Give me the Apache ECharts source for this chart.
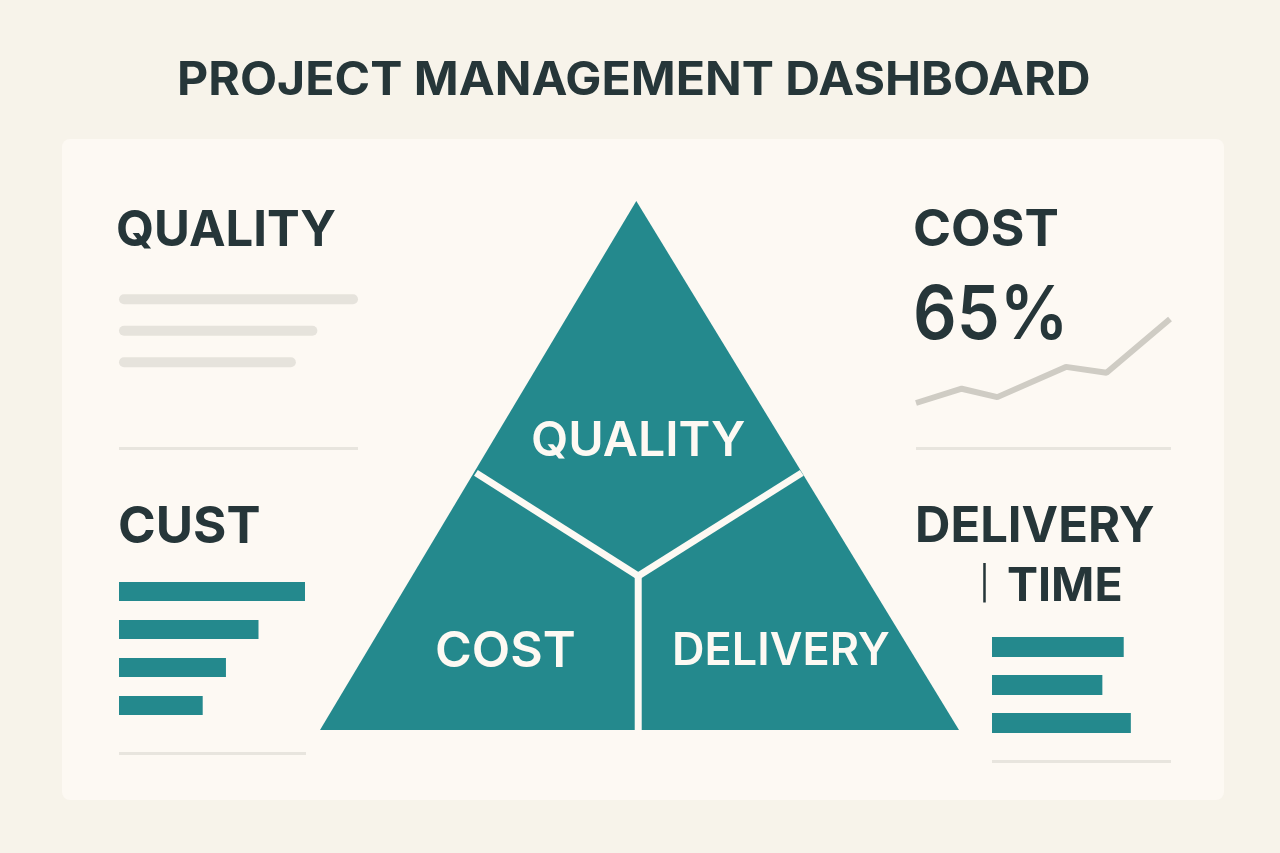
<!DOCTYPE html>
<html>
<head>
<meta charset="utf-8">
<title>Project Management Dashboard</title>
<script src="https://cdn.jsdelivr.net/npm/echarts@6/dist/echarts.min.js"></script>
<style>
html,body{margin:0;padding:0;background:#f7f3ea;}
#chart{width:1280px;height:853px;}
</style>
</head>
<body>
<div id="chart"></div>
<script>
// 数据
var custCategories = ['a', 'b', 'c', 'd'];
var custValues = [100, 75, 57.5, 45];
var qualityCategories = ['a', 'b', 'c'];
var qualityValues = [100, 83, 74];
var deliveryCategories = ['a', 'b', 'c'];
var deliveryValues = [74, 62, 78];
var costX = [0, 18, 32, 59, 75, 100];
var costY = [0, 17, 7, 43, 36, 100];
// 三角形 (0-100 坐标)
var triangleX = [49.5, 100, 0];
var triangleY = [100, 0, 0];
var seamLeftX = [24.4, 49.8];
var seamLeftY = [48.6, 29.1];
var seamRightX = [75.4, 49.8];
var seamRightY = [48.6, 29.1];
var seamDownX = [49.8, 49.8];
var seamDownY = [29.1, 0];

var teal = '#24898d';
var dark = '#263639';
var panel = '#fdf9f3';
var faint = '#e8e5de';

function zip(xs, ys) {
    var out = [];
    for (var i = 0; i < xs.length; i++) {
        out.push([xs[i], ys[i]]);
    }
    return out;
}

function text(str, x, y, size, color, weight, scaleX) {
    return {
        type: 'text', x: x, y: y, z: 100, scaleX: scaleX || 1,
        style: {
            text: str, fill: color, textVerticalAlign: 'middle',
            font: (weight || 700) + ' ' + size + 'px Inter'
        }
    };
}

function divider(x, y, w) {
    return {type: 'rect', z: 1, shape: {x: x, y: y, width: w, height: 3}, style: {fill: faint}};
}

function barSeries(idx, data, color, width, radius) {
    return {
        type: 'bar', xAxisIndex: idx, yAxisIndex: idx, data: data, barWidth: width,
        silent: true, itemStyle: {color: color, borderRadius: radius || 0}
    };
}

function hiddenValueAxis(idx) {
    return {type: 'value', gridIndex: idx, min: 0, max: 100, show: false};
}

function hiddenCategoryAxis(idx, data) {
    return {type: 'category', gridIndex: idx, data: data, inverse: true, show: false};
}

function polySeries(points, fill, stroke) {
    return {
        type: 'custom', xAxisIndex: 4, yAxisIndex: 4, silent: true, clip: false,
        data: [0],
        renderItem: function (params, api) {
            var pts = points.map(function (p) { return api.coord(p); });
            if (stroke) {
                return {type: 'polyline', shape: {points: pts}, style: {stroke: stroke, lineWidth: 7, fill: null}};
            }
            return {type: 'polygon', shape: {points: pts}, style: {fill: fill}};
        }
    };
}

var myChart = echarts.init(document.getElementById('chart'));
var option = {
    backgroundColor: '#f7f3ea',
    animation: false,
    grid: [
        {left: 119, top: 283.5, width: 239, height: 94.5},   // quality
        {left: 119, top: 572.5, width: 186, height: 152},    // cust
        {left: 916, top: 319, width: 254, height: 84},       // cost
        {left: 992, top: 628, width: 178, height: 114},      // delivery
        {left: 320, top: 201, width: 639, height: 529}       // triangle
    ],
    xAxis: [hiddenValueAxis(0), hiddenValueAxis(1), hiddenValueAxis(2), hiddenValueAxis(3), hiddenValueAxis(4)],
    yAxis: [
        hiddenCategoryAxis(0, qualityCategories),
        hiddenCategoryAxis(1, custCategories),
        hiddenValueAxis(2),
        hiddenCategoryAxis(3, deliveryCategories),
        hiddenValueAxis(4)
    ],
    series: [
        barSeries(0, qualityValues, '#e6e3dc', 10, 5),
        barSeries(1, custValues, teal, 19),
        {
            type: 'line', xAxisIndex: 2, yAxisIndex: 2, data: zip(costX, costY), showSymbol: false,
            clip: false, silent: true, lineStyle: {color: '#cfccc4', width: 6}
        },
        barSeries(3, deliveryValues, teal, 20),
        polySeries(zip(triangleX, triangleY), teal),
        polySeries(zip(seamLeftX, seamLeftY), null, panel),
        polySeries(zip(seamRightX, seamRightY), null, panel),
        polySeries(zip(seamDownX, seamDownY), null, panel)
    ],
    graphic: [
        {type: 'rect', z: -1, shape: {x: 62, y: 139, width: 1162, height: 661, r: 8}, style: {fill: panel}},
        divider(119, 447, 239),
        divider(916, 447, 255),
        divider(119, 752, 187),
        divider(992, 760, 179),
        text('PROJECT MANAGEMENT DASHBOARD', 177, 81, 46, dark, 700, 1.048),
        text('QUALITY', 116, 231, 50, dark, 700, 0.98),
        text('CUST', 118, 528, 51, dark),
        text('COST', 913, 231, 51, dark, 700, 1.01),
        text('65%', 913, 317, 74, dark, 600, 0.925),
        text('DELIVERY', 915, 527, 49, dark),
        text('|', 979, 585, 33, dark, 400),
        text('TIME', 1007, 587, 46.5, dark),
        text('QUALITY', 531, 442, 48, panel, 600, 1.005),
        text('COST', 435, 652, 50, panel, 600),
        text('DELIVERY', 672, 651, 45, panel, 600)
    ]
};
myChart.setOption(option);
</script>
</body>
</html>
